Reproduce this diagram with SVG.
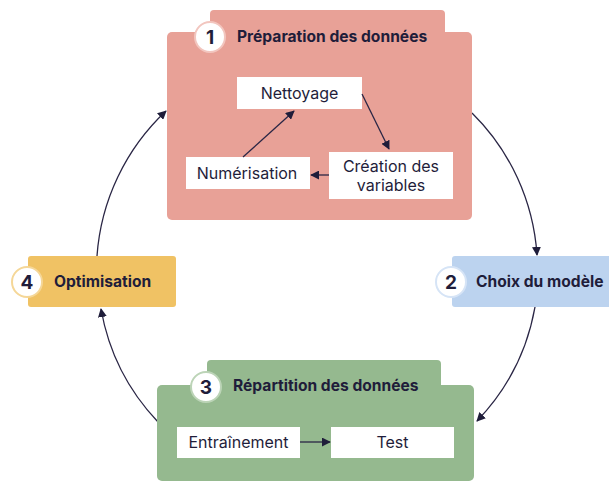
<svg xmlns="http://www.w3.org/2000/svg" width="609" height="481" viewBox="0 0 609 481">
<defs>
<style>
.t{font-family:Inter,"Noto Sans","Liberation Sans",sans-serif;fill:#1f1d3a}
.title{font-size:15.6px;font-weight:700}
.num{font-size:19px;font-weight:700;text-anchor:middle}
.lbl{font-size:16px;text-anchor:middle}
.box{fill:#ffffff}
.con{fill:none;stroke:#2a2645;stroke-width:1.3}
</style>
<marker id="ah" viewBox="0 0 10 10" refX="9" refY="5" markerWidth="9" markerHeight="9" markerUnits="userSpaceOnUse" orient="auto">
<path d="M0,0 L10,5 L0,10 z" fill="#1f1d3a"/>
</marker>
</defs>
<rect width="609" height="481" fill="#ffffff"/>

<g id="connectors">
<path class="con" d="M97,256 A220,220 0 0 1 166,111" marker-end="url(#ah)"/>
<path class="con" d="M472,113 A220,220 0 0 1 537,255" marker-end="url(#ah)"/>
<path class="con" d="M535,307 A220,220 0 0 1 477,421" marker-end="url(#ah)"/>
<path class="con" d="M158,422 A220,220 0 0 1 101,309" marker-end="url(#ah)"/>
</g>

<g id="node1">
<rect x="210" y="10" width="235" height="40" rx="4" fill="#e8a197"/>
<rect x="167" y="32" width="305" height="188" rx="5" fill="#e8a197"/>
<circle cx="210" cy="37" r="15" fill="#ffffff" stroke="#f2c6bf" stroke-width="2"/>
<text class="t num" x="210" y="44">1</text>
<text class="t title" x="237" y="42">Préparation des données</text>
<g id="nettoyage">
<rect class="box" x="237" y="77" width="125" height="32"/>
<text class="t lbl" x="299.5" y="99">Nettoyage</text>
</g>
<g id="numerisation">
<rect class="box" x="186" y="157" width="124" height="32"/>
<text class="t lbl" x="247" y="179">Numérisation</text>
</g>
<g id="creation">
<rect class="box" x="329" y="152" width="124" height="47"/>
<text class="t lbl" x="391" y="172">Création des</text>
<text class="t lbl" x="391" y="191">variables</text>
</g>
<g id="inner1">
<path class="con" d="M243,157 L294,111" marker-end="url(#ah)"/>
<path class="con" d="M362,94 L389,149" marker-end="url(#ah)"/>
<path class="con" d="M329,175 L311,175" marker-end="url(#ah)"/>
</g>
</g>

<g id="node2">
<rect x="452" y="256" width="165" height="51" rx="3" fill="#bcd3ef"/>
<circle cx="451" cy="282" r="15" fill="#ffffff" stroke="#d6e4f6" stroke-width="2"/>
<text class="t num" x="451" y="289">2</text>
<text class="t title" x="476" y="287">Choix du modèle</text>
</g>

<g id="node3">
<rect x="207" y="360" width="234" height="40" rx="4" fill="#95b98f"/>
<rect x="157" y="385" width="317" height="96" rx="5" fill="#95b98f"/>
<circle cx="206" cy="387" r="15" fill="#ffffff" stroke="#bcd4b7" stroke-width="2"/>
<text class="t num" x="206" y="394">3</text>
<text class="t title" x="233" y="391">Répartition des données</text>
<g id="entrainement">
<rect class="box" x="177" y="427" width="123" height="31"/>
<text class="t lbl" x="238.5" y="448">Entraînement</text>
</g>
<g id="test">
<rect class="box" x="331" y="427" width="123" height="31"/>
<text class="t lbl" x="392.5" y="448">Test</text>
</g>
<path class="con" d="M300,442 L330,442" marker-end="url(#ah)"/>
</g>

<g id="node4">
<rect x="28" y="256" width="148" height="51" rx="3" fill="#f0c264"/>
<circle cx="27" cy="282" r="15" fill="#ffffff" stroke="#f5d798" stroke-width="2"/>
<text class="t num" x="27" y="289">4</text>
<text class="t title" x="54" y="287">Optimisation</text>
</g>
</svg>
